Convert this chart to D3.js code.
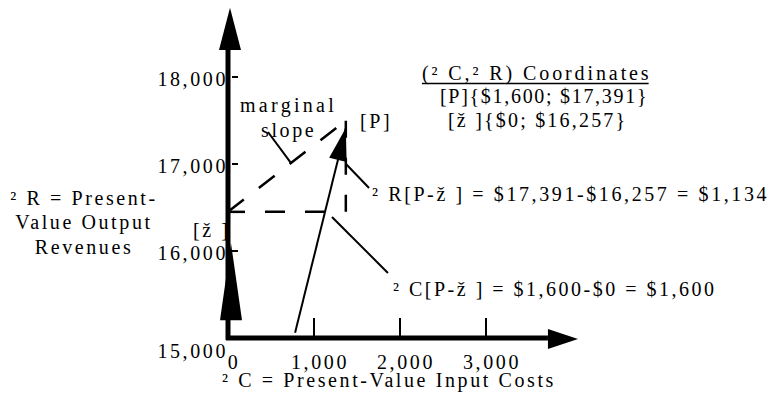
<!DOCTYPE html>
<html lang="en">
<head>
<meta charset="UTF-8">
<title>Present-value costs and revenues</title>
<script src="https://d3js.org/d3.v7.min.js"></script>
<style>
  body { margin: 0; background: #fff; }
  .axis { stroke: #000; stroke-width: 5; fill: none; }
  .tick { stroke: #000; stroke-width: 2; }
  .dash { stroke: #000; stroke-width: 2.5; fill: none; }
  .lead { stroke: #000; stroke-width: 2; fill: none; }
</style>
</head>
<body>
<script>
const width  = 775;
const height = 400;

// axis values
const costTicks   = [1000, 2000, 3000];
const costLabels  = [0, 1000, 2000, 3000];
const costText    = ["0", "1,000", "2,000", "3,000"];
const revTicks    = [16000, 17000, 18000];
const revLabels   = [15000, 16000, 17000, 18000];
const revText     = ["15,000", "16,000", "17,000", "18,000"];

// axis ends (cost, revenue) as drawn
const costAxisEnd = 3720, costArrowTip = 4070;
const revAxisEnd  = 18310, revArrowTip  = 18795;
const revInnerArrow = [15205, 16090];   // filled head sitting on the revenue axis

// points
const zeta      = [0, 16450];
const pointP    = [1370, 17415];
const arrowFoot = [780, 15060];
const slopeEnd  = [1370, 17500];
const dashTop   = 17540;

// leader lines for the notes
const leaders = [
    [[465, 17368], [733, 17011]],    // marginal slope
    [[1372, 17000], [1640, 16724]],  // dR
    [[1209, 16391], [1860, 15747]]   // dC
];

const coordTitle = "(² C,² R) Coordinates";
const coordLines = ["[P]{$1,600; $17,391}", "[ž ]{$0; $16,257}"];
const deltaR = "² R[P-ž ] = $17,391-$16,257 = $1,134";
const deltaC = "² C[P-ž ] = $1,600-$0 = $1,600";
const yTitle = ["² R = Present-", "Value Output", "Revenues"];
const xTitle = "² C = Present-Value Input Costs";

const x = d3.scaleLinear().domain([0, 3000]).range([228, 486]);
const y = d3.scaleLinear().domain([15000, 18000]).range([338, 77]);

const svg = d3.select("body").append("svg")
    .attr("width", width).attr("height", height);

const line = d3.line().x(d => x(d[0])).y(d => y(d[1]));

// filled arrowhead pointing from a to b, in pixels
function head(a, b, len, half) {
    const dx = b[0] - a[0], dy = b[1] - a[1];
    const L = Math.hypot(dx, dy), ux = dx / L, uy = dy / L;
    const bx = b[0] - ux * len, by = b[1] - uy * len;
    return [[b[0], b[1]], [bx - uy * half, by + ux * half], [bx + uy * half, by - ux * half]];
}
function tri(pts) {
    svg.append("path").attr("d", "M" + pts.map(p => p.join(",")).join("L") + "Z")
        .attr("fill", "#000");
}
function label(txt, px, py, anchor, ls) {
    return svg.append("text")
        .attr("x", px).attr("y", py)
        .attr("text-anchor", anchor || "start")
        .attr("font-family", "Liberation Serif")
        .attr("font-size", 20)
        .attr("letter-spacing", ls == null ? 2.6 : ls)
        .attr("fill", "#000")
        .text(txt);
}

// dashed guides
svg.append("path").attr("class", "dash")
    .attr("d", line([zeta, [pointP[0] - 20, zeta[1]]]))
    .attr("stroke-dasharray", "20,20").attr("stroke-dashoffset", 3);
svg.append("path").attr("class", "dash")
    .attr("d", line([[pointP[0], zeta[1]], [pointP[0], dashTop]]))
    .attr("stroke-dasharray", "17,20");
svg.append("path").attr("class", "dash")
    .attr("d", line([zeta, slopeEnd]))
    .attr("stroke-dasharray", "20,19");

// leaders
svg.selectAll("path.lead").data(leaders).enter()
    .append("path").attr("class", "lead").attr("d", d => line(d));

// arrow into P
const pFoot = [x(arrowFoot[0]), y(arrowFoot[1])];
const pTip  = [x(pointP[0]), y(pointP[1])];
svg.append("path").attr("class", "lead")
    .attr("d", line([arrowFoot, pointP]));
tri(head(pFoot, pTip, 33, 9));

// axes
const x0 = x(0), yBase = y(15000);
svg.append("path").attr("class", "axis")
    .attr("d", `M${x0},${yBase + 2}V${y(revAxisEnd)}`);
svg.append("path").attr("class", "axis")
    .attr("d", `M${x0 - 2},${yBase}H${x(costAxisEnd)}`);
tri(head([x0 + 2, y(revAxisEnd)], [x0 + 2, y(revArrowTip)], y(revAxisEnd) - y(revArrowTip), 11));
tri(head([x(costAxisEnd), yBase + 1], [x(costArrowTip), yBase + 1], x(costArrowTip) - x(costAxisEnd), 10));
tri(head([x0 + 3, y(revInnerArrow[0])], [x0 + 3, y(revInnerArrow[1])], y(revInnerArrow[0]) - y(revInnerArrow[1]), 11));

svg.selectAll("line.xt").data(costTicks).enter()
    .append("line").attr("class", "tick")
    .attr("x1", d => x(d)).attr("x2", d => x(d))
    .attr("y1", yBase - 20).attr("y2", yBase);
svg.selectAll("line.yt").data(revTicks).enter()
    .append("line").attr("class", "tick").attr("stroke-width", 1.5)
    .attr("x1", x0 + 4).attr("x2", x0 + 10)
    .attr("y1", d => y(d)).attr("y2", d => y(d));

// tick labels
costLabels.forEach((v, i) => label(costText[i], x(v) + 6, yBase + 31, "middle"));
revLabels.forEach((v, i) => label(revText[i], x0, y(v) + (v === 15000 ? 20 : 9), "end"));

// titles and notes
label(xTitle, 222, 387);
yTitle.forEach((t, i) => label(t, 84, [205, 229, 254][i], "middle"));

label("marginal", 240, 112, null, 3.3);
label("slope", 261, 137);
label("[P]", 360, 128);
label("[ž ]", 193, 237);

const title = label(coordTitle, 422, 80, null, 2.9);
const tb = title.node().getBBox();
svg.append("line").attr("stroke", "#000").attr("stroke-width", 1.3)
    .attr("x1", tb.x).attr("x2", tb.x + tb.width - 2.9)
    .attr("y1", 83.5).attr("y2", 83.5);
coordLines.forEach((t, i) => label(t, [440, 448][i], [103, 127][i], null, [1.7, 2.2][i]));

label(deltaR, 372, 201);
label(deltaC, 393, 296, null, 2.5);
</script>
</body>
</html>
